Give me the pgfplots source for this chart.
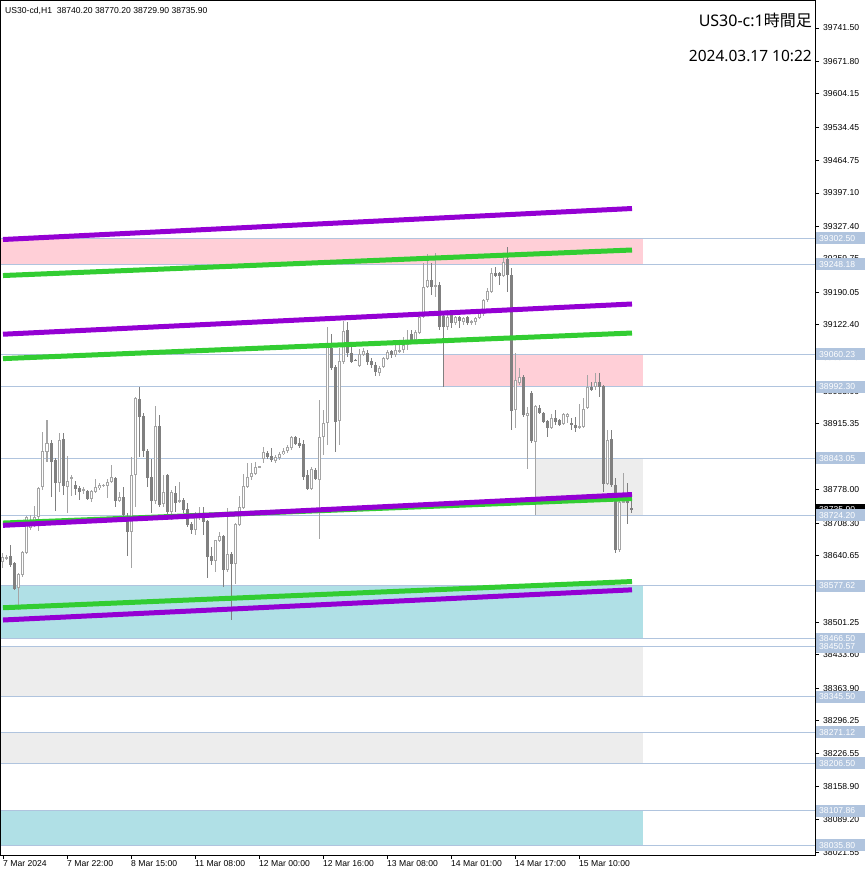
\documentclass[border=0pt]{standalone}
\usepackage{fontspec}
\setmainfont{Liberation Sans}
\newfontfamily\cjk{Noto Sans CJK JP}
\newfontfamily\notos{Noto Sans}
\usepackage{pgfplots}
\usepackage{pgfplotstable}
\pgfplotsset{compat=1.18}
\definecolor{bullc}{RGB}{165,165,165}
\definecolor{bearc}{RGB}{128,128,128}
\definecolor{lsb}{RGB}{176,196,222}
\definecolor{pinkz}{RGB}{255,207,215}
\definecolor{cyanz}{RGB}{176,224,230}
\definecolor{grayz}{RGB}{237,237,237}
\definecolor{dviolet}{RGB}{148,0,211}
\definecolor{lgreen}{RGB}{50,205,50}

\pgfplotstableread{
i o h l c
0 38627 38646 38614 38637
1 38635 38642 38631 38637
2 38640 38662 38617 38621
3 38625 38627 38568 38571
4 38573 38604 38527 38602
5 38600 38650 38596 38648
6 38646 38723 38644 38721
7 38698 38725 38694 38715
8 38710 38744 38700 38721
9 38721 38784 38692 38781
10 38784 38898 38777 38859
11 38857 38923 38836 38875
12 38875 38882 38763 38836
13 38840 38844 38733 38792
14 38792 38896 38773 38882
15 38884 38896 38767 38786
16 38784 38848 38729 38796
17 38800 38809 38765 38804
18 38788 38796 38767 38779
19 38781 38786 38756 38773
20 38775 38784 38769 38779
21 38775 38777 38756 38758
22 38758 38777 38752 38775
23 38773 38800 38771 38784
24 38781 38792 38777 38788
25 38786 38790 38784 38788
26 38786 38800 38761 38794
27 38794 38829 38792 38804
28 38802 38804 38742 38754
29 38754 38773 38752 38763
30 38763 38784 38721 38725
31 38723 38729 38640 38690
32 38690 38846 38614 38809
33 38809 38971 38742 38969
34 38967 38992 38846 38930
35 38932 38938 38846 38859
36 38859 38863 38784 38802
37 38804 38842 38729 38754
38 38754 38953 38748 38911
39 38911 38934 38742 38746
40 38748 38809 38742 38773
41 38809 38811 38721 38731
42 38731 38777 38715 38773
43 38771 38786 38731 38750
44 38752 38794 38750 38756
45 38756 38761 38729 38735
46 38738 38750 38700 38704
47 38706 38710 38685 38694
48 38694 38731 38683 38729
49 38721 38742 38715 38729
50 38729 38742 38683 38710
51 38713 38715 38594 38637
52 38640 38658 38621 38629
53 38629 38673 38606 38673
54 38671 38690 38669 38681
55 38681 38683 38575 38610
56 38610 38740 38606 38644
57 38644 38648 38506 38623
58 38623 38708 38581 38706
59 38704 38765 38702 38742
60 38740 38811 38738 38786
61 38784 38834 38781 38804
62 38804 38834 38798 38813
63 38811 38836 38809 38825
64 38825 38827 38823 38826
65 38842 38867 38834 38857
66 38855 38859 38842 38846
67 38848 38865 38836 38840
68 38838 38850 38834 38846
69 38844 38857 38840 38852
70 38852 38865 38850 38859
71 38859 38871 38855 38867
72 38865 38890 38861 38888
73 38888 38890 38871 38873
74 38875 38886 38865 38869
75 38873 38882 38798 38804
76 38809 38819 38777 38779
77 38779 38825 38777 38821
78 38819 38823 38798 38800
79 38798 38965 38675 38888
80 38888 38944 38850 38917
81 38917 39117 38871 39076
82 39074 39103 39028 39032
83 39034 39038 38857 38919
84 38921 39074 38871 39047
85 39044 39130 39040 39109
86 39111 39128 39055 39063
87 39063 39086 39042 39044
88 39049 39050 39047 39048
89 39036 39072 39034 39061
90 39059 39074 39057 39067
91 39063 39069 39038 39044
92 39046 39053 39032 39038
93 39038 39044 39015 39023
94 39021 39036 39015 39032
95 39034 39055 39032 39053
96 39051 39069 39049 39065
97 39067 39069 39053 39059
98 39059 39090 39055 39069
99 39065 39080 39063 39069
100 39069 39097 39063 39080
101 39080 39111 39069 39090
102 39103 39111 39086 39090
103 39090 39111 39086 39107
104 39105 39143 39103 39138
105 39138 39251 39136 39201
106 39201 39270 39199 39216
107 39216 39251 39184 39201
108 39201 39272 39180 39205
109 39205 39211 39111 39117
110 39140 39149 38992.3 39117
111 39117 39153 39111 39138
112 39143 39149 39115 39126
113 39126 39140 39122 39138
114 39138 39140 39115 39130
115 39128 39138 39122 39136
116 39138 39140 39122 39126
117 39128 39132 39122 39130
118 39128 39138 39122 39136
119 39136 39151 39134 39147
120 39145 39176 39140 39174
121 39174 39199 39170 39193
122 39191 39241 39188 39230
123 39230 39243 39222 39224
124 39230 39232 39205 39224
125 39224 39264 39222 39253
126 39259 39284 39191 39226
127 39226 39241 38902 38942
128 38944 39063 38907 39007
129 39001 39032 38996 39013
130 39013 39017 38930 38934
131 38932 38951 38821 38938
132 38980 38984 38875 38880
133 38877 38955 38724.2 38953
134 38948 38955 38936 38938
135 38938 38940 38917 38919
136 38921 38923 38888 38907
137 38907 38936 38904 38928
138 38928 38944 38913 38919
139 38923 38925 38911 38913
140 38915 38938 38913 38936
141 38930 38938 38917 38936
142 38917 38928 38902 38913
143 38913 38930 38898 38907
144 38907 38957 38904 38911
145 38909 38969 38907 38946
146 38948 39017 38946 38992
147 38992 39003 38984 38986
148 38992 39021 38986 39003
149 39003 39021 38971 38992
150 38994 38996 38773 38790
151 38790 38902 38788 38882
152 38884 38902 38784 38788
153 38788 38802 38646 38652
154 38652 38756 38648 38752
155 38752 38813 38750 38754
156 38761 38792 38706 38750
157 38740.2 38770.2 38729.9 38735.9
}\candles

\begin{document}
\begin{tikzpicture}
\path[use as bounding box] (0pt,0pt) rectangle (866pt,-876pt);
\fill[white] (0pt,0pt) rectangle (866pt,-876pt);
\begin{axis}[
  at={(1pt,0pt)}, anchor=north west,
  scale only axis, width=814pt, height=855pt,
  xmin=-0.5, xmax=203, ymin=38015.4, ymax=39800,
  axis line style={black, line width=1pt},
  clip mode=individual,
  /pgf/number format/assume math mode=true,
  xtick={0,16,32,48,64,80,96,112,128,144},
  xticklabels={7 Mar 2024, 7 Mar 22:00, 8 Mar 15:00, 11 Mar 08:00, 12 Mar 00:00, 12 Mar 16:00, 13 Mar 08:00, 14 Mar 01:00, 14 Mar 17:00, 15 Mar 10:00},
  ytick={39741.50,39671.80,39604.15,39534.45,39464.75,39397.10,39327.40,39259.75,39190.05,39122.40,39052.70,38983.00,38915.35,38845.65,38778.00,38708.30,38640.65,38570.95,38501.25,38433.60,38363.90,38296.25,38226.55,38158.90,38089.20,38021.55},
  yticklabels={39741.50,39671.80,39604.15,39534.45,39464.75,39397.10,39327.40,39259.75,39190.05,39122.40,39052.70,38983.00,38915.35,38845.65,38778.00,38708.30,38640.65,38570.95,38501.25,38433.60,38363.90,38296.25,38226.55,38158.90,38089.20,38021.55},
  xtick pos=left, ytick pos=right,
  tick align=outside, major tick length=4pt,
  tick style={black, line width=0.8pt},
  ticklabel style={font=\fontsize{8.6}{10}\selectfont, inner sep=0pt},
  yticklabel style={anchor=west, xshift=4pt},
  xticklabel style={anchor=north west, yshift=-1pt},
  candle/.style={draw=none, mark=none, mark options={draw=none, fill=none}},
]
% zones
\addplot[fill=pinkz, draw=none] coordinates {(-0.5,39302.50) (160,39302.50) (160,39248.18) (-0.5,39248.18)};
\addplot[fill=pinkz, draw=none] coordinates {(110,39060.23) (160,39060.23) (160,38992.30) (110,38992.30)};
\addplot[fill=grayz, draw=none] coordinates {(133,38843.05) (160,38843.05) (160,38724.20) (133,38724.20)};
\addplot[fill=cyanz, draw=none] coordinates {(-0.5,38577.62) (160,38577.62) (160,38466.50) (-0.5,38466.50)};
\addplot[fill=grayz, draw=none] coordinates {(-0.5,38450.57) (160,38450.57) (160,38345.50) (-0.5,38345.50)};
\addplot[fill=grayz, draw=none] coordinates {(-0.5,38271.12) (160,38271.12) (160,38206.50) (-0.5,38206.50)};
\addplot[fill=cyanz, draw=none] coordinates {(-0.5,38107.86) (160,38107.86) (160,38035.80) (-0.5,38035.80)};
% level lines
\pgfplotsinvokeforeach{39302.50,39248.18,39060.23,38992.30,38843.05,38724.20,38577.62,38466.50,38450.57,38345.50,38271.12,38206.50,38107.86,38035.80}{
  \addplot[lsb, line width=1pt] coordinates {(-0.5,#1) (203,#1)};
}
% wicks
\addplot[candle,
  restrict expr to domain={\thisrow{c}-\thisrow{o}}{0.001:100000},
  error bars/.cd, y dir=both, y explicit, error mark=none,
  error bar style={draw=bullc, line width=1pt}]
  table[x=i, y expr={(\thisrow{h}+\thisrow{l})/2}, y error expr={(\thisrow{h}-\thisrow{l})/2}] {\candles};
\addplot[candle,
  restrict expr to domain={\thisrow{c}-\thisrow{o}}{-100000:0},
  error bars/.cd, y dir=both, y explicit, error mark=none,
  error bar style={draw=bearc, line width=1pt}]
  table[x=i, y expr={(\thisrow{h}+\thisrow{l})/2}, y error expr={(\thisrow{h}-\thisrow{l})/2}] {\candles};
% bodies
\addplot[candle,
  restrict expr to domain={\thisrow{c}-\thisrow{o}}{-100000:0},
  error bars/.cd, y dir=both, y explicit, error mark=none,
  error bar style={draw=bearc, line width=3pt}]
  table[x=i, y expr={(\thisrow{o}+\thisrow{c})/2}, y error expr={max(abs(\thisrow{o}-\thisrow{c})/2,1.05)}] {\candles};
\addplot[candle,
  restrict expr to domain={\thisrow{c}-\thisrow{o}}{0.001:100000},
  error bars/.cd, y dir=both, y explicit, error mark=none,
  error bar style={draw=bullc, line width=3pt}]
  table[x=i, y expr={(\thisrow{o}+\thisrow{c})/2}, y error expr={max(abs(\thisrow{o}-\thisrow{c})/2,1.05)}] {\candles};
\addplot[candle,
  restrict expr to domain={\thisrow{c}-\thisrow{o}}{0.001:100000},
  error bars/.cd, y dir=both, y explicit, error mark=none,
  error bar style={draw=white, line width=1pt}]
  table[x=i, y expr={(\thisrow{o}+\thisrow{c})/2}, y error expr={max(abs(\thisrow{o}-\thisrow{c})/2-2.09,0)}] {\candles};
% channel lines
\addplot[lgreen, line width=5pt] coordinates {(0,39224.9) (157.25,39278.2)};
\addplot[lgreen, line width=5pt] coordinates {(0,39051.5) (157.25,39104.9)};
\addplot[lgreen, line width=5pt] coordinates {(0,38708.3) (157.25,38759.5)};
\addplot[lgreen, line width=5pt] coordinates {(0,38531.5) (157.25,38586.2)};
\addplot[dviolet, line width=5pt] coordinates {(0,39300.1) (157.25,39364.8)};
\addplot[dviolet, line width=5pt] coordinates {(0,39102.4) (157.25,39165.5)};
\addplot[dviolet, line width=5pt] coordinates {(0,38703.5) (157.25,38767.8)};
\addplot[dviolet, line width=5pt] coordinates {(0,38505.9) (157.25,38568.9)};
% anchors for price labels
\coordinate (Lcur) at (axis cs:203,38735.90);
\coordinate (L1) at (axis cs:203,39302.50);
\coordinate (L2) at (axis cs:203,39248.18);
\coordinate (L3) at (axis cs:203,39060.23);
\coordinate (L4) at (axis cs:203,38992.30);
\coordinate (L5) at (axis cs:203,38843.05);
\coordinate (L6) at (axis cs:203,38724.20);
\coordinate (L7) at (axis cs:203,38577.62);
\coordinate (L8) at (axis cs:203,38466.50);
\coordinate (L9) at (axis cs:203,38450.57);
\coordinate (L10) at (axis cs:203,38345.50);
\coordinate (L11) at (axis cs:203,38271.12);
\coordinate (L12) at (axis cs:203,38206.50);
\coordinate (L13) at (axis cs:203,38107.86);
\coordinate (L14) at (axis cs:203,38035.80);
\end{axis}
\tikzset{lvl/.style={fill=lsb, text=white, anchor=west, inner xsep=3pt, inner ysep=0pt,
  minimum height=12pt, text width=43pt, align=left, xshift=1pt,
  font=\fontsize{8.6}{10}\selectfont}}
\node[lvl, fill=black] at (Lcur) {38735.90};
\node[lvl] at (L1) {39302.50};
\node[lvl] at (L2) {39248.18};
\node[lvl] at (L3) {39060.23};
\node[lvl] at (L4) {38992.30};
\node[lvl] at (L5) {38843.05};
\node[lvl] at (L6) {38724.20};
\node[lvl] at (L7) {38577.62};
\node[lvl] at (L8) {38466.50};
\node[lvl] at (L9) {38450.57};
\node[lvl] at (L10) {38345.50};
\node[lvl] at (L11) {38271.12};
\node[lvl] at (L12) {38206.50};
\node[lvl] at (L13) {38107.86};
\node[lvl] at (L14) {38035.80};
\node[anchor=base west, font=\fontsize{8.6}{10}\selectfont, inner sep=0pt] at (5pt,-13.5pt) {US30-cd,H1\ \ 38740.20 38770.20 38729.90 38735.90};
\node[anchor=base east, font=\notos\fontsize{16}{18}\selectfont, inner sep=0pt] at (812pt,-26.5pt) {US30-c:1{\cjk 時間足}};
\node[anchor=base east, font=\notos\fontsize{15.5}{18}\selectfont, inner sep=0pt] at (812pt,-61.5pt) {2024.03.17 10:22};
\end{tikzpicture}
\end{document}
